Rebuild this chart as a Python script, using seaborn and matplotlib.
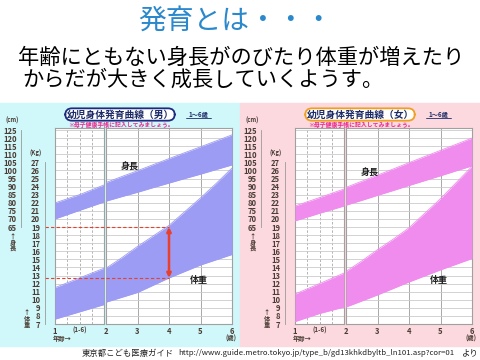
import matplotlib
matplotlib.use("Agg")
import matplotlib.pyplot as plt
import seaborn as sns
from matplotlib.patches import Rectangle
from matplotlib.lines import Line2D

# ---- データ ----
ages_infant = [1, 1.5, 2]
ages_child = [2, 2.5, 3, 3.5, 4, 4.5, 5, 5.5, 6]

# 男の子
boy_h_hi_inf = [79.9, 85.0, 91.0]
boy_h_lo_inf = [70.0, 75.3, 80.5]
boy_h_hi_ch = [92.5, 96.2, 99.8, 103.6, 107.3, 111.0, 114.6, 118.3, 122.0]
boy_h_lo_ch = [81.0, 83.8, 86.5, 89.4, 92.2, 95.0, 97.7, 100.6, 103.4]
boy_w_hi_inf = [11.5, 12.7, 13.9]
boy_w_lo_inf = [7.6, 8.5, 9.4]
boy_w_hi_ch = [13.9, 15.2, 16.6, 17.9, 19.2, 20.9, 22.6, 24.4, 26.3]
boy_w_lo_ch = [9.7, 10.3, 10.9, 11.8, 12.7, 13.5, 14.3, 14.95, 15.6]

# 女の子
girl_h_hi_inf = [78.0, 83.2, 88.5]
girl_h_lo_inf = [68.8, 73.5, 78.0]
girl_h_hi_ch = [89.5, 93.3, 97.1, 100.9, 104.8, 108.6, 112.4, 116.2, 120.0]
girl_h_lo_ch = [78.5, 81.5, 84.6, 87.6, 90.7, 93.7, 96.7, 99.8, 102.8]
girl_w_hi_inf = [10.7, 12.0, 13.3]
girl_w_lo_inf = [7.3, 8.3, 9.1]
girl_w_hi_ch = [13.5, 14.8, 16.2, 17.5, 18.9, 20.7, 22.5, 24.5, 26.5]
girl_w_lo_ch = [9.1, 9.85, 10.6, 11.4, 12.2, 12.95, 13.7, 14.4, 15.1]

# 例: 4歳の体重の幅
arrow_age = 4
arrow_top, arrow_bottom = 19, 12.7

cm_ticks = list(range(65, 130, 5))
kg_ticks = list(range(7, 28))
child_ticks = [2, 3, 4, 5, 6]

W, H = 480, 360
YLO, YHI = 7, 31.25


def cm2kg(cm):
    # 身長目盛り 65cm = 体重目盛り 19kg, 5cm = 1kg
    return [19 + (c - 65) / 5 for c in cm]


def rect(x0, y0, x1, y1):
    return [x0 / W, 1 - y1 / H, (x1 - x0) / W, (y1 - y0) / H]


sns.set_theme(style="white")
plt.rcParams['font.family'] = ['Noto Sans CJK JP', 'DejaVu Sans']

fig = plt.figure(figsize=(4.8, 3.6), dpi=100)
fig.patch.set_facecolor("white")

txt_col = "#4a3c34"


def panel(ox, bg, band, edge, sex, h_hi_inf, h_lo_inf, h_hi_ch, h_lo_ch,
          w_hi_inf, w_lo_inf, w_hi_ch, w_lo_ch, h_label_y):
    fig.add_artist(Rectangle((ox / W, 1 - 346 / H), 240 / W, 243 / H,
                             transform=fig.transFigure, color=bg, zorder=0))

    ax_inf = fig.add_axes(rect(ox + 55, 128, ox + 104, 324))
    ax_ch = fig.add_axes(rect(ox + 106, 128, ox + 232, 324))

    for ax in (ax_inf, ax_ch):
        ax.set_facecolor("white")
        ax.set_ylim(YLO, YHI)
        ax.set_yticks(range(7, 32))
        ax.yaxis.grid(True, color="#cbcbcb", lw=0.6)
        ax.tick_params(axis="y", length=0, labelleft=False)
        ax.tick_params(axis="x", length=0, pad=2, labelsize=5.5,
                       labelcolor=txt_col)
        for s in ax.spines.values():
            s.set_color("#a0a0a0")
            s.set_linewidth(0.8)

    ax_inf.set_xlim(1, 2)
    ax_inf.set_xticks([1, 1.25, 1.5, 1.75])
    ax_inf.set_xticklabels(["1", "", "", ""], fontweight="bold")
    ax_inf.xaxis.grid(True, color="#a8a8a8", lw=0.6, ls=(0, (3, 2)))
    ax_ch.set_xlim(2, 6)
    ax_ch.set_xticks(child_ticks)
    ax_ch.set_xticklabels([str(t) for t in child_ticks], fontweight="bold")
    ax_ch.xaxis.grid(True, color="#a8a8a8", lw=0.7)

    # 身長・体重の帯
    for ax, ages, series in (
        (ax_inf, ages_infant, [(cm2kg(h_lo_inf), cm2kg(h_hi_inf)), (w_lo_inf, w_hi_inf)]),
        (ax_ch, ages_child, [(cm2kg(h_lo_ch), cm2kg(h_hi_ch)), (w_lo_ch, w_hi_ch)]),
    ):
        for lo, hi in series:
            ax.fill_between(ages, lo, hi, color=band, lw=0, zorder=3)
            sns.lineplot(x=ages, y=lo, ax=ax, color=band, lw=0.6, zorder=3)
            sns.lineplot(x=ages, y=hi, ax=ax, color=band, lw=0.6, zorder=3)
        ax.set_ylim(YLO, YHI)

    # 目盛り軸 (cm / kg)
    ax_cm = fig.add_axes(rect(ox + 21, 128, ox + 21.5, 324))
    ax_kg = fig.add_axes(rect(ox + 45, 128, ox + 45.5, 324))
    for ax, lim, ticks, bnd, pad in (
        (ax_cm, (65 + (YLO - 19) * 5, 65 + (YHI - 19) * 5), cm_ticks, (65, 125), 3),
        (ax_kg, (YLO, YHI), kg_ticks, (7, 27), 3.5),
    ):
        ax.patch.set_alpha(0)
        ax.set_ylim(*lim)
        ax.set_yticks(ticks)
        ax.set_xticks([])
        for k in ("top", "right", "bottom"):
            ax.spines[k].set_visible(False)
        ax.spines["left"].set_bounds(*bnd)
        ax.spines["left"].set_color("#9a9a9a")
        ax.spines["left"].set_linewidth(0.6)
        ax.tick_params(axis="y", direction="in", length=3, width=0.5,
                       color="#9a9a9a", pad=pad, labelsize=5.5,
                       labelcolor=txt_col)
        for lb in ax.get_yticklabels():
            lb.set_fontweight("bold")

    def ft(x, y, s, **kw):
        fig.text((ox + x) / W, 1 - y / H, s, **kw)

    ft(12, 120, "(cm)", fontsize=4.3, ha="center", va="center", color=txt_col, fontweight="bold")
    ft(36, 153.5, "(Kg)", fontsize=4.3, ha="center", va="center", color=txt_col, fontweight="bold")
    ft(13, 242, "↑\n身\n長", fontsize=4.5, ha="center", va="center", color=txt_col,
       fontweight="bold", linespacing=0.95)
    ft(27, 318, "↑\n体\n重", fontsize=4.5, ha="center", va="center", color=txt_col,
       fontweight="bold", linespacing=0.95)
    ft(80, 330, "(1-6)", fontsize=4.5, ha="center", va="center", color=txt_col, fontweight="bold")
    ft(62, 338, "年齢→", fontsize=4.5, ha="center", va="center", color=txt_col, fontweight="bold")
    ft(231, 338, "(歳)", fontsize=4.5, ha="center", va="center", color=txt_col, fontweight="bold")

    # 見出し
    ft(120, 114.5, f"幼児身体発育曲線（{sex}）", fontsize=7, ha="center", va="center",
       color="#1c2a66", fontweight="bold",
       bbox=dict(boxstyle="round,pad=0.12,rounding_size=0.7", fc="white", ec=edge, lw=1.3))
    ft(198, 114, "1～6歳", fontsize=4.5, ha="center", va="center", color="#1c2a66",
       fontweight="bold")
    fig.add_artist(Line2D([(ox + 186) / W, (ox + 211) / W], [1 - 118 / H, 1 - 118 / H],
                          color="#1c2a66", lw=0.6))
    ft(68, 125, "※母子健康手帳に記入してみましょう。", fontsize=4.2, ha="left", va="center",
       color="#e8288c", fontweight="bold")

    ft(130, h_label_y, "身長", fontsize=6.5, ha="center", va="center", color="#222222",
       fontweight="bold")
    ft(199, 281, "体重", fontsize=6.5, ha="center", va="center", color="#222222",
       fontweight="bold")
    return ax_inf, ax_ch


ax_inf_b, ax_ch_b = panel(0, "#d0f7fa", "#9c9cf4", "#1c2a80", "男",
                          boy_h_hi_inf, boy_h_lo_inf, boy_h_hi_ch, boy_h_lo_ch,
                          boy_w_hi_inf, boy_w_lo_inf, boy_w_hi_ch, boy_w_lo_ch, 167)
panel(240, "#fcd9df", "#f08cee", "#f0a020", "女",
      girl_h_hi_inf, girl_h_lo_inf, girl_h_hi_ch, girl_h_lo_ch,
      girl_w_hi_inf, girl_w_lo_inf, girl_w_hi_ch, girl_w_lo_ch, 173)

# 赤い点線と矢印（男の子 4歳）
red = "#e8402a"
for yv in (arrow_top, arrow_bottom):
    ax_inf_b.plot([1 + (45 - 55) / 49, 2], [yv, yv], color=red, lw=0.8,
                  ls=(0, (3, 2)), clip_on=False, zorder=5)
    ax_ch_b.plot([2, arrow_age], [yv, yv], color=red, lw=0.8, ls=(0, (3, 2)), zorder=5)
ax_ch_b.annotate("", xy=(arrow_age, arrow_top), xytext=(arrow_age, arrow_bottom),
                 arrowprops=dict(arrowstyle="<|-|>", color=red, lw=1.8,
                                 mutation_scale=6, shrinkA=0, shrinkB=0), zorder=6)

# タイトル・説明文
fig.text(236 / W, 1 - 21 / H, "発育とは・・・", fontsize=20, color="#2a88cc",
         ha="center", va="center")
fig.text(18 / W, 1 - 58 / H, "年齢にともない身長がのびたり体重が増えたり",
         fontsize=15.3, color="black", ha="left", va="center")
fig.text(22 / W, 1 - 80 / H, "からだが大きく成長していくようす。",
         fontsize=15.3, color="black", ha="left", va="center")

# 出典
fig.text(82 / W, 1 - 353 / H, "東京都こども医療ガイド", fontsize=6, color="#222222",
         ha="left", va="center")
fig.text(178 / W, 1 - 353 / H,
         "http://www.guide.metro.tokyo.jp/type_b/gd13khkdbyltb_ln101.asp?cor=01",
         fontsize=5.6, color="#222222", ha="left", va="center")
fig.text(462 / W, 1 - 353 / H, "より", fontsize=6, color="#222222", ha="left", va="center")

plt.savefig("out.png", dpi=100)
